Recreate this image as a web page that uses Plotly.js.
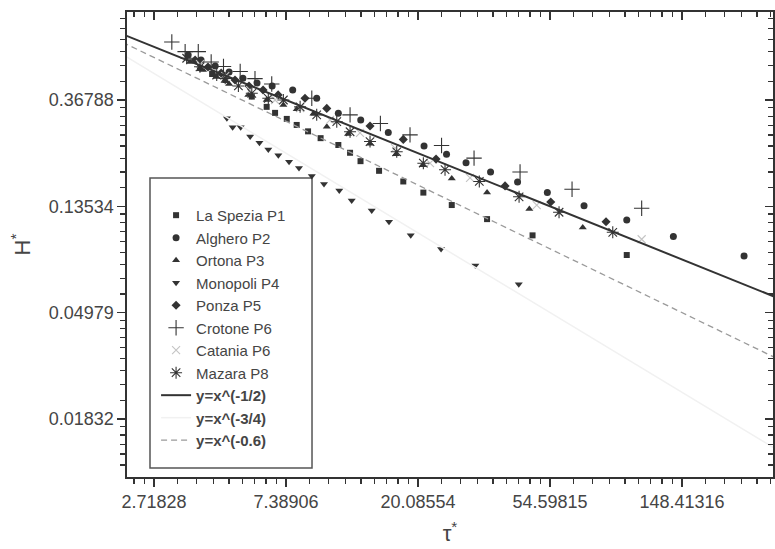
<!DOCTYPE html>
<html><head><meta charset="utf-8">
<script src="https://cdn.plot.ly/plotly-3.0.1.min.js"></script>
<style>html,body{margin:0;padding:0;background:#fff}#chart{width:775px;height:549px}</style>
</head><body><div id="chart"></div>
<script>
// ---- tick labels ----
const xTickVals = [2.71828, 7.38906, 20.08554, 54.59815, 148.41316];
const xTickText = ['2.71828', '7.38906', '20.08554', '54.59815', '148.41316'];
const yTickVals = [0.36788, 0.13534, 0.04979, 0.01832];
const yTickText = ['0.36788', '0.13534', '0.04979', '0.01832'];

// ---- data series (tau*, H*) ----
const laSpeziaX = [3.85, 4.22, 4.66, 5.70, 6.38, 6.80, 7.43, 8.01, 8.73, 9.60, 10.98, 12.0, 12.99, 14.95, 17.96, 20.91, 25.93, 33.88, 47.82, 97.62];
const laSpeziaY = [0.497, 0.470, 0.444, 0.380, 0.345, 0.326, 0.308, 0.291, 0.274, 0.257, 0.241, 0.224, 0.207, 0.189, 0.171, 0.154, 0.137, 0.120, 0.103, 0.0856];

const algheroX = [3.52, 3.88, 4.32, 4.80, 5.33, 5.93, 6.65, 7.77, 9.32, 10.98, 13.01, 16.03, 21.02, 24.92, 28.89, 34.79, 42.69, 53.49, 70.64, 97.62, 138.96, 237.4];
const algheroY = [0.562, 0.536, 0.507, 0.479, 0.452, 0.432, 0.420, 0.404, 0.374, 0.325, 0.305, 0.271, 0.239, 0.221, 0.204, 0.187, 0.170, 0.154, 0.136, 0.119, 0.102, 0.0848];

const ortonaX = [3.57, 3.94, 4.35, 4.80, 5.55, 6.38, 7.24, 8.01, 9.09, 10.06, 11.82, 13.96, 16.99, 20.79, 25.93, 33.88, 46.67, 69.95];
const ortonaY = [0.526, 0.488, 0.457, 0.428, 0.386, 0.368, 0.351, 0.337, 0.323, 0.286, 0.267, 0.244, 0.221, 0.199, 0.176, 0.154, 0.132, 0.111];

const monopoliX = [4.72, 4.93, 5.24, 5.63, 6.04, 6.46, 6.97, 7.56, 8.15, 8.98, 9.85, 11.06, 12.15, 14.14, 16.12, 19.0, 23.91, 31.0, 43.08];
const monopoliY = [0.310, 0.285, 0.285, 0.261, 0.246, 0.231, 0.219, 0.206, 0.194, 0.180, 0.167, 0.157, 0.143, 0.130, 0.117, 0.103, 0.0906, 0.0775, 0.0650];

const ponzaX = [3.71, 4.09, 4.52, 5.02, 5.58, 6.21, 6.96, 8.53, 10.06, 13.96, 17.96, 23.02, 38.83, 54.89, 83.44];
const ponzaY = [0.536, 0.502, 0.474, 0.444, 0.420, 0.404, 0.386, 0.374, 0.340, 0.288, 0.254, 0.211, 0.164, 0.141, 0.117];

const crotoneX = [3.11, 3.44, 3.80, 4.19, 4.60, 5.22, 5.84, 6.63, 8.98, 12.0, 15.1, 18.9, 24.0, 30.7, 43.5, 64.5, 109.3];
const crotoneY = [0.635, 0.580, 0.580, 0.526, 0.504, 0.481, 0.450, 0.428, 0.374, 0.320, 0.295, 0.265, 0.240, 0.213, 0.187, 0.159, 0.133];

const cataniaX = [3.85, 4.66, 5.63, 6.80, 8.22, 10.31, 12.94, 16.87, 21.99, 29.78, 49.36, 109.3];
const cataniaY = [0.516, 0.461, 0.404, 0.368, 0.341, 0.305, 0.270, 0.234, 0.203, 0.177, 0.137, 0.0993];

const mazaraX = [3.48, 3.85, 4.37, 4.66, 5.15, 5.70, 6.46, 7.24, 8.22, 9.32, 10.85, 12.0, 13.96, 17.09, 20.91, 24.64, 31.95, 43.18, 58.45, 87.8];
const mazaraY = [0.545, 0.503, 0.465, 0.451, 0.420, 0.392, 0.374, 0.368, 0.345, 0.320, 0.300, 0.273, 0.249, 0.226, 0.203, 0.191, 0.171, 0.148, 0.128, 0.106];

// reference power laws y = x^p
const lineXEnds = [2.0, 320];
const powers = [-0.5, -0.75, -0.6];
const powerNames = ['<b>y=x^(-1/2)</b>', '<b>y=x^(-3/4)</b>', '<b>y=x^(-0.6)</b>'];

// minor ticks: 8 linear subdivisions between successive e-powers
function minorTicks(kFrom, kTo) {
  const out = [];
  for (let k = kFrom; k < kTo; k++) {
    const a = Math.exp(k), b = Math.exp(k + 1);
    for (let i = 1; i <= 8; i++) out.push(a + (b - a) * i / 9);
  }
  return out;
}
const xMinor = minorTicks(0, 6);
const yMinor = minorTicks(-5, 0);

const FONT = 'Liberation Sans, Arial, sans-serif';
const DARK = '#333333';
const TXT = '#454545';

function sc(name, x, y, symbol, size, color, lineOnly) {
  const m = {symbol: symbol, size: size, color: color};
  if (lineOnly) m.line = {color: color, width: 1.1};
  else m.line = {width: 0};
  return {type: 'scatter', mode: 'markers', name: name, x: x, y: y, marker: m, cliponaxis: true};
}

const traces = [
  sc('La Spezia P1', laSpeziaX, laSpeziaY, 'square', 6, DARK),
  sc('Alghero P2', algheroX, algheroY, 'circle', 7, DARK),
  sc('Ortona P3', ortonaX, ortonaY, 'triangle-up', 7, DARK),
  sc('Monopoli P4', monopoliX, monopoliY, 'triangle-down', 7, DARK),
  sc('Ponza P5', ponzaX, ponzaY, 'diamond', 7, DARK),
  sc('Crotone P6', crotoneX, crotoneY, 'cross-thin-open', 11, DARK, true),
  sc('Catania P6', cataniaX, cataniaY, 'x-thin-open', 8, '#c4c4c4', true),
  sc('Mazara P8', mazaraX, mazaraY, 'asterisk-open', 10, DARK, true)
];
const lineStyles = [
  {color: DARK, width: 2},
  {color: '#f1f1f1', width: 1.5},
  {color: '#9a9a9a', width: 1.3, dash: '6px,4px'}
];
powers.forEach((p, i) => {
  traces.push({type: 'scatter', mode: 'lines', name: powerNames[i],
    x: lineXEnds, y: lineXEnds.map(v => Math.pow(v, p)), line: lineStyles[i]});
});
// carrier for the mirrored top/right axes
traces.push({type: 'scatter', mode: 'markers', x: [1], y: [1], xaxis: 'x2', yaxis: 'y2',
  marker: {size: 1, opacity: 0}, showlegend: false, hoverinfo: 'skip'});

const xr = [0.3453, 2.4707], yr = [-1.9743, -0.0747];
const axBase = {type: 'log', showgrid: false, zeroline: false, showline: true,
  linecolor: DARK, linewidth: 1.6, tickcolor: DARK, tickwidth: 1.4, ticklen: 8};

const layout = {
  width: 775, height: 549,
  margin: {l: 127, r: 2, t: 12, b: 72},
  paper_bgcolor: '#fff', plot_bgcolor: '#fff',
  font: {family: FONT, color: TXT},
  showlegend: true,
  legend: {x: 0.045, y: 0.598, xanchor: 'left', yanchor: 'top',
    bgcolor: 'rgba(0,0,0,0)', borderwidth: 0, font: {family: FONT, size: 15, color: TXT}},
  xaxis: Object.assign({}, axBase, {range: xr, tickmode: 'array', tickvals: xTickVals, ticktext: xTickText,
    ticks: 'outside', tickfont: {size: 18, color: TXT, family: FONT},
    title: {text: 'τ<sup>*</sup>', font: {size: 22, color: TXT, family: FONT}, standoff: 14},
    minor: {tickmode: 'array', tickvals: xMinor, ticks: 'outside', ticklen: 5, tickwidth: 1.2, tickcolor: DARK, showgrid: false}}),
  yaxis: Object.assign({}, axBase, {range: yr, tickmode: 'array', tickvals: yTickVals, ticktext: yTickText,
    ticks: 'outside', tickfont: {size: 18, color: TXT, family: FONT},
    title: {text: 'H<sup>*</sup>', font: {size: 22, color: TXT, family: FONT}, standoff: 12},
    minor: {tickmode: 'array', tickvals: yMinor, ticks: 'outside', ticklen: 5, tickwidth: 1.2, tickcolor: DARK, showgrid: false}}),
  xaxis2: Object.assign({}, axBase, {range: xr, overlaying: 'x', side: 'top', anchor: 'y2',
    tickmode: 'array', tickvals: xTickVals, ticks: 'inside', showticklabels: false,
    minor: {tickmode: 'array', tickvals: xMinor, ticks: 'inside', ticklen: 5, tickwidth: 1.2, tickcolor: DARK, showgrid: false}}),
  yaxis2: Object.assign({}, axBase, {range: yr, overlaying: 'y', side: 'right', anchor: 'x2',
    tickmode: 'array', tickvals: yTickVals, ticks: 'inside', showticklabels: false,
    minor: {tickmode: 'array', tickvals: yMinor, ticks: 'inside', ticklen: 5, tickwidth: 1.2, tickcolor: DARK, showgrid: false}}),
  shapes: [{type: 'rect', xref: 'paper', yref: 'paper', x0: 0.0356, x1: 0.2864, y0: 0.0194, y1: 0.643,
    line: {color: '#555', width: 1.5}, fillcolor: 'rgba(0,0,0,0)', layer: 'below'}]
};

Plotly.newPlot('chart', traces, layout, {displayModeBar: false, staticPlot: true});
</script></body></html>
